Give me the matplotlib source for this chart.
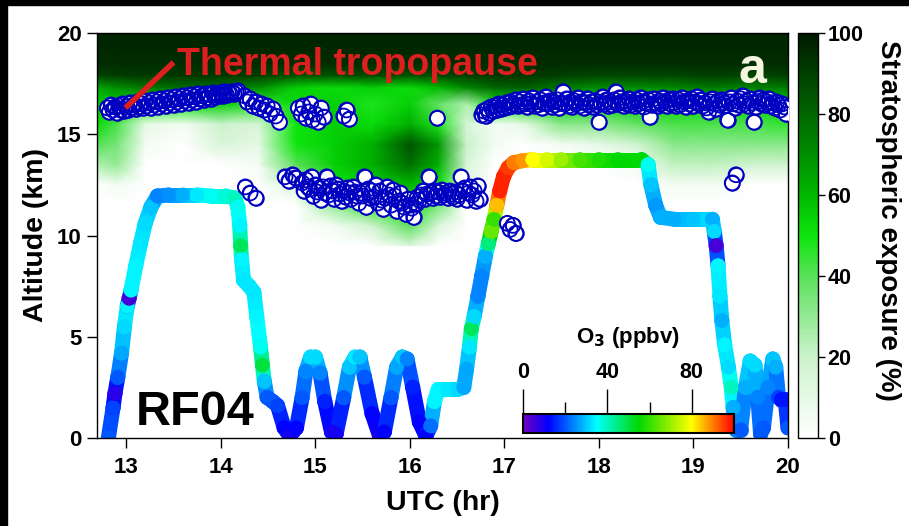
import numpy as np
import matplotlib
matplotlib.use('Agg')
import matplotlib.pyplot as plt
from matplotlib.colors import LinearSegmentedColormap, Normalize
from matplotlib.collections import LineCollection
from matplotlib.cm import ScalarMappable
from matplotlib.patches import Rectangle

plt.rcParams['font.family'] = ['Liberation Sans', 'DejaVu Sans']
plt.rcParams['font.weight'] = 'bold'
plt.rcParams['axes.labelweight'] = 'bold'

# Champ de fond : exposition stratospherique (%)
bg_time = [12.7, 12.9, 13.2, 13.6, 14.0, 14.4, 14.8, 15.2, 15.6, 16.0, 16.3,
           16.6, 16.9, 17.2, 17.6, 18.0, 18.4, 18.8, 19.2, 19.6, 20.0]
bg_alt = [9.5, 10.5, 11.5, 12.5, 13.5, 14.5, 15.5, 16.5, 17.3, 17.9, 18.5, 20.0]
bg_exposure = [
    [0, 0, 0, 0, 0, 0, 0, 0, 0, 15, 0, 0, 0, 0, 0, 0, 0, 0, 0, 0, 0],
    [0, 0, 0, 0, 0, 0, 0, 5, 20, 40, 15, 0, 0, 0, 0, 0, 0, 0, 0, 0, 0],
    [0, 0, 0, 0, 0, 0, 0, 30, 45, 50, 35, 0, 0, 0, 0, 0, 0, 0, 0, 0, 0],
    [0, 5, 0, 0, 0, 0, 15, 50, 55, 60, 50, 10, 0, 0, 0, 0, 0, 5, 5, 0, 0],
    [25, 30, 0, 0, 0, 5, 40, 55, 62, 78, 62, 15, 0, 0, 0, 0, 5, 22, 22, 18, 18],
    [40, 35, 5, 0, 15, 10, 50, 55, 62, 85, 68, 20, 5, 0, 5, 10, 18, 32, 32, 32, 32],
    [52, 42, 10, 5, 20, 15, 50, 55, 52, 62, 48, 15, 5, 10, 32, 32, 38, 42, 42, 42, 45],
    [55, 55, 50, 50, 55, 45, 52, 55, 48, 55, 38, 25, 50, 55, 55, 55, 55, 55, 55, 55, 55],
    [65, 70, 75, 78, 78, 70, 55, 52, 55, 52, 60, 72, 80, 82, 75, 70, 70, 72, 75, 72, 75],
    [90, 90, 92, 92, 92, 90, 85, 85, 88, 85, 88, 90, 92, 92, 90, 88, 88, 88, 90, 88, 90],
    [95] * 21,
    [97] * 21,
]

# Trajectoire de vol : temps (UTC), altitude (km), O3 (ppbv)
track_t = [12.81, 12.86, 12.88, 12.91, 12.95, 12.98, 13.01, 13.03, 13.05, 13.10,
           13.15, 13.20, 13.26, 13.33, 13.45, 13.60, 13.75, 13.90, 14.05, 14.15,
           14.18, 14.20, 14.21, 14.22, 14.24, 14.30, 14.35, 14.38, 14.42, 14.44,
           14.46, 14.49, 14.55, 14.60, 14.67, 14.73, 14.80, 14.86, 14.90, 14.95,
           15.00, 15.05, 15.10, 15.17, 15.22, 15.30, 15.36, 15.42, 15.47, 15.52,
           15.60, 15.68, 15.73, 15.80, 15.86, 15.92, 15.97, 16.03, 16.10, 16.17,
           16.22, 16.26, 16.30, 16.40, 16.50, 16.57, 16.60, 16.63, 16.65, 16.68,
           16.72, 16.76, 16.80, 16.83, 16.86, 16.89, 16.92, 16.95, 16.99, 17.04,
           17.10, 17.20, 17.30, 17.45, 17.60, 17.80, 18.00, 18.20, 18.45, 18.52,
           18.55, 18.60, 18.65, 18.80, 19.00, 19.15, 19.20, 19.22, 19.24, 19.26,
           19.28, 19.30, 19.33, 19.37, 19.40, 19.42, 19.45, 19.50, 19.55, 19.60,
           19.65, 19.68, 19.71, 19.74, 19.79, 19.84, 19.87, 19.90, 19.93, 19.97,
           20.00]
track_alt = [0.0, 1.5, 2.2, 3.0, 4.2, 5.5, 6.5, 6.9, 7.3, 8.5,
             9.6, 10.6, 11.4, 11.95, 12.0, 12.0, 12.0, 11.95, 11.95, 11.85,
             11.4, 10.5, 9.5, 8.8, 7.8, 7.5, 7.2, 6.0, 4.5, 3.6,
             2.8, 2.0, 1.8, 1.6, 0.5, 0.1, 0.5, 2.0, 3.3, 4.0,
             4.0, 3.2, 1.8, 0.3, 0.2, 2.0, 3.5, 4.0, 4.0, 3.0,
             1.2, 0.1, 0.3, 2.0, 3.5, 4.0, 3.9, 2.5, 0.8, 0.1,
             0.6, 1.8, 2.4, 2.4, 2.4, 2.5, 3.4, 4.5, 5.4, 6.0,
             7.0, 8.0, 9.0, 9.6, 10.2, 10.8, 11.5, 12.2, 12.9, 13.35,
             13.6, 13.7, 13.75, 13.75, 13.75, 13.75, 13.75, 13.75, 13.75, 13.5,
             12.5, 11.5, 10.9, 10.8, 10.8, 10.8, 10.8, 10.2, 9.5, 8.5,
             7.0, 5.8, 4.6, 3.5, 2.5, 1.5, 0.4, 0.4, 2.5, 3.8,
             3.6, 2.0, 0.2, 0.5, 2.5, 3.9, 3.5, 2.0, 1.9, 1.9,
             0.5]
track_o3 = [20, 18, 8, 20, 27, 32, 34, 5, 34, 34,
            33, 32, 30, 24, 25, 28, 33, 36, 38, 40,
            36, 34, 48, 34, 33, 33, 33, 34, 36, 50,
            30, 20, 20, 18, 12, 10, 12, 20, 24, 32,
            32, 24, 15, 10, 10, 20, 30, 33, 30, 20,
            12, 10, 12, 20, 27, 30, 24, 15, 12, 12,
            22, 34, 34, 33, 32, 27, 27, 33, 48, 32,
            24, 24, 28, 45, 65, 60, 85, 97, 97, 95,
            90, 88, 80, 76, 70, 62, 58, 55, 55, 36,
            30, 26, 28, 28, 30, 32, 28, 32, 5, 34,
            33, 28, 34, 32, 40, 28, 24, 20, 28, 32,
            32, 24, 20, 20, 24, 30, 28, 18, 14, 14,
            20]

# Tropopause thermique : temps (UTC), altitude (km)
tp_time = [
    # bande haute, debut de vol
    12.80, 12.82, 12.84, 12.86, 12.88, 12.90, 12.92, 12.94, 12.96, 12.98,
    13.00, 13.02, 13.04, 13.06, 13.08, 13.10, 13.12, 13.14, 13.16, 13.18,
    13.20, 13.22, 13.24, 13.26, 13.28, 13.30, 13.32, 13.34, 13.36, 13.38,
    13.40, 13.42, 13.44, 13.46, 13.48, 13.50, 13.52, 13.54, 13.56, 13.58,
    13.60, 13.62, 13.64, 13.66, 13.68, 13.70, 13.72, 13.74, 13.76, 13.78,
    13.80, 13.82, 13.84, 13.86, 13.88, 13.90, 13.92, 13.94, 13.96, 13.98,
    14.00, 14.02, 14.04, 14.06, 14.08, 14.10, 14.12, 14.14, 14.16, 14.18,
    # descente et amas vers 15 h
    14.25, 14.28, 14.31, 14.34, 14.37, 14.40, 14.43, 14.46, 14.49, 14.52,
    14.55, 14.58, 14.62,
    14.82, 14.85, 14.87, 14.90, 14.93, 14.95, 14.97, 15.00, 15.03, 15.06,
    15.09, 15.30, 15.33, 15.36, 16.29,
    # bande haute, fin de vol
    16.76, 16.78, 16.80, 16.82, 16.84, 16.86, 16.88, 16.90, 16.92, 16.94,
    16.96, 16.98, 17.00, 17.02, 17.04, 17.06, 17.08, 17.10, 17.12, 17.14,
    17.16, 17.18, 17.20, 17.22, 17.24, 17.26, 17.28, 17.30, 17.32, 17.34,
    17.36, 17.38, 17.40, 17.42, 17.44, 17.46, 17.48, 17.50, 17.52, 17.54,
    17.56, 17.58, 17.60, 17.62, 17.64, 17.66, 17.68, 17.70, 17.72, 17.74,
    17.76, 17.78, 17.80, 17.82, 17.84, 17.86, 17.88, 17.90, 17.92, 17.94,
    17.96, 17.98, 18.00, 18.02, 18.04, 18.06, 18.08, 18.10, 18.12, 18.14,
    18.16, 18.18, 18.20, 18.22, 18.24, 18.26, 18.28, 18.30, 18.32, 18.34,
    18.36, 18.38, 18.40, 18.42, 18.44, 18.46, 18.48, 18.50, 18.52, 18.54,
    18.56, 18.58, 18.60, 18.62, 18.64, 18.66, 18.68, 18.70, 18.72, 18.74,
    18.76, 18.78, 18.80, 18.82, 18.84, 18.86, 18.88, 18.90, 18.92, 18.94,
    18.96, 18.98, 19.00, 19.02, 19.04, 19.06, 19.08, 19.10, 19.12, 19.14,
    19.16, 19.18, 19.20, 19.22, 19.24, 19.26, 19.28, 19.30, 19.32, 19.34,
    19.36, 19.38, 19.40, 19.42, 19.44, 19.46, 19.48, 19.50, 19.52, 19.54,
    19.56, 19.58, 19.60, 19.62, 19.64, 19.66, 19.68, 19.70, 19.72, 19.74,
    19.76, 19.78, 19.80, 19.82, 19.84, 19.86, 19.88, 19.90, 19.92, 19.94,
    19.96, 19.98,
    19.45, 19.41,
    # amas bas
    14.26, 14.31, 14.37, 14.68, 14.72, 14.76, 14.79,
    14.86, 14.88, 14.90, 14.92, 14.94, 14.96, 14.98, 15.00, 15.02, 15.04,
    15.06, 15.08, 15.10, 15.12, 15.14, 15.16, 15.18, 15.20, 15.22, 15.24,
    15.26, 15.28, 15.30, 15.32, 15.34, 15.36, 15.38, 15.40, 15.42, 15.44,
    15.46, 15.48, 15.50, 15.52, 15.54, 15.56, 15.58, 15.60, 15.62, 15.64,
    15.66, 15.68, 15.70, 15.72, 15.74, 15.76, 15.78, 15.80, 15.82, 15.84,
    15.86, 15.88, 15.90, 15.92, 15.94, 15.96, 15.98, 16.00, 16.02, 16.04,
    16.06, 16.08, 16.10, 16.12, 16.14, 16.16, 16.18, 16.20, 16.22, 16.24,
    16.26, 16.28, 16.30, 16.32, 16.34, 16.36, 16.38, 16.40, 16.42, 16.44,
    16.46, 16.48, 16.50, 16.52, 16.54, 16.56, 16.58, 16.60, 16.62, 16.64,
    16.66, 16.68, 16.70, 16.72, 16.74,
    17.03, 17.06, 17.09, 17.12,
]
tp_alt = [
    16.3, 16.1, 16.45, 16.2, 16.35, 16.05, 16.4, 16.2, 16.5, 16.15,
    16.35, 16.2, 16.55, 16.3, 16.45, 16.25, 16.6, 16.35, 16.5, 16.3,
    16.65, 16.4, 16.55, 16.3, 16.7, 16.45, 16.6, 16.35, 16.75, 16.5,
    16.65, 16.4, 16.8, 16.55, 16.7, 16.45, 16.85, 16.6, 16.75, 16.5,
    16.9, 16.65, 16.8, 16.55, 16.95, 16.7, 16.85, 16.6, 17.0, 16.75,
    16.9, 16.7, 17.0, 16.8, 16.95, 16.75, 17.05, 16.85, 17.0, 16.9,
    17.05, 16.9, 17.1, 16.95, 17.05, 17.0, 17.1, 17.0, 17.1, 17.15,
    16.9, 16.6, 16.75, 16.4, 16.6, 16.3, 16.5, 16.2, 16.4, 16.0,
    16.25, 15.9, 15.6,
    16.3, 16.0, 16.4, 15.8, 16.1, 16.5, 15.7, 16.0, 15.6, 16.3,
    15.85, 15.9, 16.2, 15.75, 15.8,
    15.95, 16.15, 15.9, 16.25, 16.05, 16.35, 16.15, 16.4, 16.2, 16.5,
    16.25, 16.45, 16.3, 16.55, 16.35, 16.6, 16.4, 16.5, 16.7, 16.4,
    16.6, 16.45, 16.75, 16.5, 16.35, 16.65, 16.5, 16.8, 16.4, 16.6,
    16.45, 16.7, 16.3, 16.55, 16.85, 16.5, 16.65, 16.35, 16.6, 16.45,
    16.7, 16.3, 16.55, 17.1, 16.5, 16.75, 16.4, 16.6, 16.35, 16.65,
    16.5, 16.8, 16.4, 16.6, 16.3, 16.55, 16.75, 16.45, 16.6, 16.35,
    16.65, 16.45, 15.6, 16.55, 16.85, 16.5, 16.7, 16.4, 16.6, 16.45,
    16.7, 17.1, 16.5, 16.8, 16.6, 16.4, 16.65, 16.5, 16.75, 16.45,
    16.6, 16.4, 16.7, 16.5, 16.8, 16.6, 16.35, 16.55, 16.7, 15.85,
    16.45, 16.75, 16.55, 16.4, 16.65, 16.5, 16.8, 16.6, 16.4, 16.7,
    16.5, 16.75, 16.55, 16.4, 16.7, 16.45, 16.8, 16.6, 16.35, 16.65,
    16.5, 16.75, 16.4, 16.6, 16.85, 16.5, 16.7, 16.4, 16.55, 16.3,
    16.1, 16.6, 16.75, 16.5, 16.25, 16.65, 16.45, 16.7, 16.55, 16.4,
    15.7, 16.6, 16.8, 16.5, 16.3, 16.65, 16.45, 16.75, 16.9, 16.5,
    16.65, 16.4, 16.75, 16.55, 15.6, 16.35, 16.6, 16.8, 16.5, 16.7,
    16.45, 16.6, 16.75, 16.4, 16.55, 16.3, 16.6, 16.45, 16.2, 16.5,
    16.35, 16.0,
    13.0, 12.6,
    12.4, 12.1, 11.85, 12.9, 12.7, 13.0, 12.85,
    12.6, 12.2, 12.75, 12.4, 12.3, 12.9, 11.95, 12.5, 12.15, 12.35,
    11.75, 12.4, 12.1, 12.9, 12.0, 12.45, 12.2, 11.8, 12.5, 12.3,
    12.05, 11.7, 12.2, 11.9, 12.35, 12.1, 11.8, 12.4, 12.15, 11.95,
    11.6, 12.1, 11.95, 12.9, 11.4, 12.3, 11.85, 12.2, 11.9, 12.5,
    11.6, 12.2, 11.75, 11.3, 11.85, 12.4, 12.0, 11.5, 12.25, 11.95,
    11.2, 11.7, 12.1, 11.6, 11.4, 11.05, 11.8, 11.5, 11.35, 10.9,
    11.55, 11.9, 11.75, 12.0, 12.2, 11.8, 12.05, 12.9, 12.1, 11.85,
    12.2, 11.95, 12.15, 11.9, 12.25, 12.0, 12.1, 11.85, 12.2, 12.05,
    11.9, 12.15, 11.8, 12.0, 12.9, 12.2, 12.35, 11.75, 12.1, 12.4,
    12.0, 12.2, 11.7, 12.45, 11.8,
    10.6, 10.3, 10.5, 10.1,
]

x_ticks = [13, 14, 15, 16, 17, 18, 19, 20]
y_ticks = [0, 5, 10, 15, 20]
strat_ticks = [0, 20, 40, 60, 80, 100]
o3_ticks = [0, 40, 80]

# Palettes
strat_cmap = LinearSegmentedColormap.from_list('strat', [
    (0.0, (1.0, 1.0, 1.0)), (0.2, (0.80, 0.95, 0.80)), (0.4, (0.35, 0.88, 0.35)),
    (0.5, (0.05, 0.90, 0.05)), (0.6, (0.0, 0.72, 0.0)), (0.8, (0.0, 0.40, 0.0)),
    (1.0, (0.0, 0.10, 0.0))])
o3_cmap = LinearSegmentedColormap.from_list('o3', [
    (0.0, (0.45, 0.0, 0.75)), (0.12, (0.0, 0.0, 1.0)), (0.35, (0.0, 1.0, 1.0)),
    (0.55, (0.0, 0.85, 0.0)), (0.8, (1.0, 1.0, 0.0)), (0.9, (1.0, 0.5, 0.0)),
    (1.0, (1.0, 0.0, 0.0))])
o3_norm = Normalize(0, 100)

fig = plt.figure(figsize=(9.09, 5.26), dpi=100)
ax = fig.add_axes([97 / 909, 88 / 526, 691 / 909, 405 / 526])

T, Z = np.meshgrid(bg_time, bg_alt)
ax.pcolormesh(T, Z, np.array(bg_exposure), cmap=strat_cmap, vmin=0, vmax=100,
              shading='gouraud', zorder=0)

# Trajectoire
pts = np.column_stack([track_t, track_alt])
segs = np.stack([pts[:-1], pts[1:]], axis=1)
o3 = np.array(track_o3, dtype=float)
lc = LineCollection(segs, cmap=o3_cmap, norm=o3_norm, linewidths=10.8,
                    capstyle='round', joinstyle='round', zorder=2)
lc.set_array((o3[:-1] + o3[1:]) / 2)
ax.add_collection(lc)
ax.scatter(track_t, track_alt, c=track_o3, cmap=o3_cmap, norm=o3_norm,
           s=115, linewidths=0, zorder=2.5)

# Tropopause : cercles blancs puis contours seuls par-dessus
tp_edge = '#0000c0'
ax.scatter(tp_time, tp_alt, s=115, facecolors='white', edgecolors=tp_edge,
           linewidths=1.1, zorder=3)
ax.scatter(tp_time, tp_alt, s=115, facecolors='none', edgecolors=tp_edge,
           linewidths=1.3, zorder=3.1)

# Annotations
ax.plot([12.99, 13.50], [16.3, 18.55], color='#dc1f1f', lw=4, zorder=4,
        solid_capstyle='butt')
ax.text(13.54, 17.93, 'Thermal tropopause', color='#dc1f1f', fontsize=27,
        fontweight='bold', va='baseline', ha='left', zorder=5)
ax.text(19.62, 18.17, 'a', color='#f4f4e0', fontsize=36, fontweight='bold',
        ha='center', va='center', zorder=5)
ax.text(13.095, 0.64, 'RF04', color='black', fontsize=35, fontweight='bold',
        ha='left', va='baseline', zorder=5)

ax.set_xlim(12.69, 20.0)
ax.set_ylim(0, 20)
ax.set_xticks(x_ticks)
ax.set_yticks(y_ticks)
ax.tick_params(direction='out', length=7, width=1, labelsize=16)
ax.tick_params(axis='x', pad=7)
ax.tick_params(axis='y', pad=4)
ax.set_xlabel('UTC (hr)', fontsize=20.5, fontweight='bold', labelpad=8)
ax.set_ylabel('Altitude (km)', fontsize=20.5, fontweight='bold', labelpad=6)
for sp in ax.spines.values():
    sp.set_linewidth(1)

# Barre de couleur : exposition stratospherique
cax1 = fig.add_axes([798 / 909, 88 / 526, 20 / 909, 405 / 526])
cb1 = fig.colorbar(ScalarMappable(Normalize(0, 100), strat_cmap), cax=cax1)
cb1.set_ticks(strat_ticks)
cb1.ax.tick_params(length=5, width=1, labelsize=15.5, pad=2)
cb1.outline.set_linewidth(1)
fig.text(888 / 909, 1 - 220 / 526, 'Stratospheric exposure (%)', rotation=270,
         fontsize=20, fontweight='bold', ha='center', va='center')

# Barre de couleur : O3
cax2 = fig.add_axes([523 / 909, 93 / 526, 211 / 909, 19 / 526])
cb2 = fig.colorbar(ScalarMappable(o3_norm, o3_cmap), cax=cax2,
                   orientation='horizontal')
cb2.set_ticks(o3_ticks)
cax2.xaxis.set_ticks_position('top')
cax2.xaxis.set_label_position('top')
cax2.set_xticks([20, 60], minor=True)
cax2.tick_params(which='major', length=18, width=1, labelsize=15.5, pad=4)
cax2.tick_params(which='minor', length=9, width=1)
cb2.outline.set_linewidth(1.5)
fig.text(628 / 909, 1 - 338 / 526, 'O$_3$ (ppbv)', fontsize=16,
         fontweight='bold', ha='center', va='center')

# Cadre noir en haut et a gauche
fig.patches.append(Rectangle((0, 1 - 5 / 526), 1, 5 / 526, transform=fig.transFigure,
                             color='black', zorder=10))
fig.patches.append(Rectangle((0, 0), 7 / 909, 1, transform=fig.transFigure,
                             color='black', zorder=10))

fig.savefig('out.png', dpi=100)
